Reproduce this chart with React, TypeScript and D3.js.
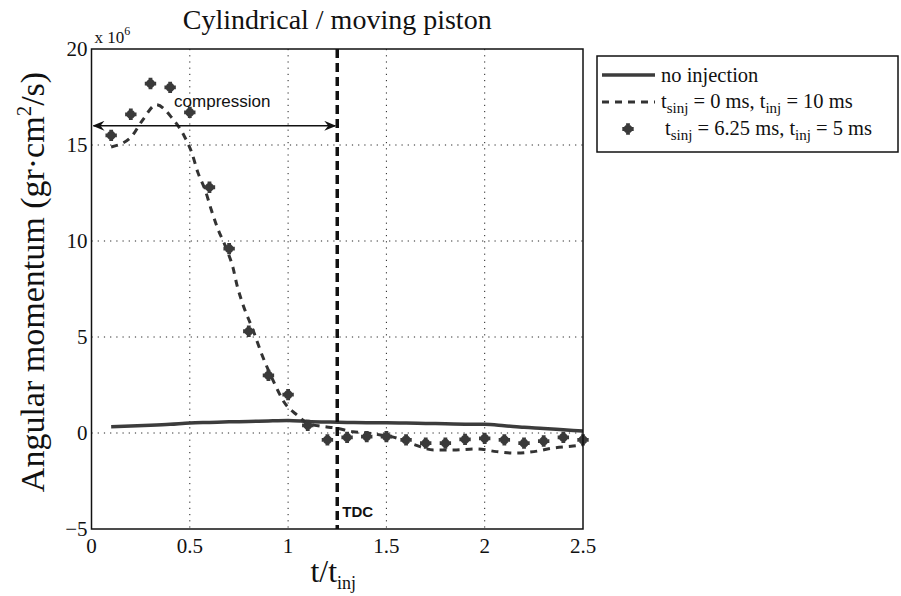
import React from 'react'
import * as d3 from 'd3'

// no injection (solid)
const noInjX = [0.1, 0.2, 0.3, 0.4, 0.5, 0.6, 0.7, 0.8, 0.9, 1.0, 1.1, 1.2, 1.3, 1.4, 1.5, 1.6, 1.7, 1.8, 1.9, 2.0, 2.1, 2.2, 2.3, 2.4, 2.5]
const noInjY = [0.33, 0.36, 0.4, 0.45, 0.52, 0.55, 0.58, 0.6, 0.63, 0.65, 0.6, 0.57, 0.55, 0.54, 0.53, 0.52, 0.5, 0.48, 0.46, 0.45, 0.38, 0.3, 0.24, 0.17, 0.1]

// t_sinj = 0 ms, t_inj = 10 ms (dashed)
const sinj0X = [0.1, 0.2, 0.26, 0.33, 0.41, 0.47, 0.51, 0.54, 0.58, 0.61, 0.64, 0.69, 0.72, 0.74, 0.77, 0.82, 0.87, 0.93, 0.98, 1.05, 1.1, 1.17, 1.24, 1.33, 1.4, 1.47, 1.53, 1.64, 1.74, 1.84, 1.96, 2.06, 2.15, 2.25, 2.35, 2.45, 2.5]
const sinj0Y = [14.9, 15.4, 16.3, 17.1, 16.4, 15.5, 14.6, 13.6, 12.6, 11.6, 10.7, 9.5, 8.6, 7.7, 6.7, 5.4, 4.0, 2.6, 1.6, 0.9, 0.5, 0.35, 0.26, 0.07, 0.0, -0.1, -0.2, -0.6, -0.88, -0.88, -0.83, -0.97, -1.05, -0.97, -0.78, -0.68, -0.62]

// t_sinj = 6.25 ms, t_inj = 5 ms (markers)
const sinj625X = [0.1, 0.2, 0.3, 0.4, 0.5, 0.6, 0.7, 0.8, 0.9, 1.0, 1.1, 1.2, 1.3, 1.4, 1.5, 1.6, 1.7, 1.8, 1.9, 2.0, 2.1, 2.2, 2.3, 2.4, 2.5]
const sinj625Y = [15.5, 16.6, 18.2, 18.0, 16.7, 12.8, 9.6, 5.3, 3.0, 2.0, 0.4, -0.36, -0.23, -0.19, -0.19, -0.36, -0.53, -0.53, -0.33, -0.28, -0.36, -0.53, -0.42, -0.23, -0.36]

const xTicks = [0, 0.5, 1, 1.5, 2, 2.5]
const xTickLabels = ['0', '0.5', '1', '1.5', '2', '2.5']
const yTicks = [-5, 0, 5, 10, 15, 20]
const yTickLabels = ['\u22125', '0', '5', '10', '15', '20']

const tdcX = 1.25
const arrowY = 16

const W = 901
const H = 596
const margin = { top: 49, right: 318, bottom: 67, left: 91.5 }

const serif = "'Liberation Serif', 'Times New Roman', serif"
const sans = "'Liberation Sans', Arial, sans-serif"

function Marker({ x, y }: { x: number; y: number }) {
  const plus = d3.symbol(d3.symbolCross, 72)()
  const diag = d3.symbol(d3.symbolCross, 42)()
  return (
    <g transform={`translate(${x},${y})`} fill="#3a3a3a">
      <path d={plus || ''} />
      <path d={diag || ''} transform="rotate(45)" />
    </g>
  )
}

export default function App() {
  const x = d3.scaleLinear().domain([0, 2.5]).range([margin.left, W - margin.right])
  const y = d3.scaleLinear().domain([-5, 20]).range([H - margin.bottom, margin.top])

  const line = d3.line<[number, number]>()
    .x(d => x(d[0]))
    .y(d => y(d[1]))
    .curve(d3.curveMonotoneX)

  const noInj = line(noInjX.map((v, i) => [v, noInjY[i]] as [number, number])) || ''
  const sinj0 = line(sinj0X.map((v, i) => [v, sinj0Y[i]] as [number, number])) || ''

  const x0 = x(0), x1 = x(2.5), y0 = y(-5), y1 = y(20)
  const legX = 597, legY = 56

  return (
    <svg width={W} height={H} style={{ position: 'absolute', left: 0, top: 0, background: '#fff' }}>
      <defs>
        <marker id="ah" viewBox="0 0 12 10" refX="11" refY="5" markerWidth="12" markerHeight="10" orient="auto-start-reverse" markerUnits="userSpaceOnUse">
          <path d="M0,0 L12,5 L0,10 L4,5 Z" fill="#111" />
        </marker>
        <clipPath id="plot">
          <rect x={x0} y={y1} width={x1 - x0} height={y0 - y1} />
        </clipPath>
      </defs>

      {/* grid */}
      {xTicks.slice(1, -1).map(t => (
        <line key={'gx' + t} x1={x(t)} x2={x(t)} y1={y1} y2={y0} stroke="#222" strokeWidth={1} strokeDasharray="1.2,5" />
      ))}
      {yTicks.slice(1, -1).map(t => (
        <line key={'gy' + t} x1={x0} x2={x1} y1={y(t)} y2={y(t)} stroke="#222" strokeWidth={1} strokeDasharray="1.2,5" />
      ))}

      <g clipPath="url(#plot)">
        <path d={noInj} fill="none" stroke="#3c3c3c" strokeWidth={3.5} />
        <path d={sinj0} fill="none" stroke="#333" strokeWidth={3} strokeDasharray="7,6" />
      </g>
      {sinj625X.map((v, i) => (
        <Marker key={'m' + i} x={x(v)} y={y(sinj625Y[i])} />
      ))}

      {/* TDC line */}
      <line x1={x(tdcX)} x2={x(tdcX)} y1={y1} y2={y0} stroke="#111" strokeWidth={3.5} strokeDasharray="9,5" />
      <text x={x(tdcX) + 5} y={y(-4.35)} fontFamily={sans} fontWeight="bold" fontSize={15} fill="#111">TDC</text>

      {/* compression arrow */}
      <line x1={x0 + 2} x2={x(tdcX) - 2} y1={y(arrowY)} y2={y(arrowY)} stroke="#111" strokeWidth={1.5}
        markerStart="url(#ah)" markerEnd="url(#ah)" />
      <text x={x(0.42)} y={y(17)} fontFamily={sans} fontSize={17} fill="#111">compression</text>

      {/* axes box */}
      <rect x={x0} y={y1} width={x1 - x0} height={y0 - y1} fill="none" stroke="#111" strokeWidth={1.5} />
      {xTicks.map((t, i) => (
        <text key={'xt' + t} x={x(t)} y={y0 + 24} textAnchor="middle" fontFamily={serif} fontSize={21} fill="#111">{xTickLabels[i]}</text>
      ))}
      {yTicks.map((t, i) => (
        <text key={'yt' + t} x={x0 - 4} y={y(t) + 7} textAnchor="end" fontFamily={serif} fontSize={21} fill="#111">{yTickLabels[i]}</text>
      ))}
      <text x={x0 + 3} y={y1 - 6} fontFamily={serif} fontSize={17} fill="#111">
        x 10<tspan dy={-8} fontSize={12}>6</tspan>
      </text>

      {/* title and axis labels */}
      <text x={(x0 + x1) / 2} y={29} textAnchor="middle" fontFamily={serif} fontSize={28} fill="#111">Cylindrical / moving piston</text>
      <text x={(x0 + x1) / 2 - 4} y={582} textAnchor="middle" fontFamily={serif} fontSize={32} fill="#111">
        t/t<tspan dy={7} fontSize={18}>inj</tspan>
      </text>
      <text transform={`translate(44,282) rotate(-90)`} textAnchor="middle" fontFamily={serif} fontSize={34} fill="#111">
        Angular momentum (gr{'\u00b7'}cm<tspan dy={-13} fontSize={21}>2</tspan><tspan dy={13}>/s)</tspan>
      </text>

      {/* legend */}
      <rect x={legX} y={legY} width={301} height={96} fill="#fff" stroke="#111" strokeWidth={1.5} />
      <line x1={legX + 5} x2={legX + 58} y1={legY + 19} y2={legY + 19} stroke="#3c3c3c" strokeWidth={3.5} />
      <text x={legX + 64} y={legY + 26} fontFamily={serif} fontSize={20.5} fill="#111">no injection</text>
      <line x1={legX + 5} x2={legX + 58} y1={legY + 46} y2={legY + 46} stroke="#333" strokeWidth={3} strokeDasharray="7,6" />
      <text x={legX + 64} y={legY + 52} fontFamily={serif} fontSize={20.5} fill="#111">
        t<tspan dy={5} fontSize={15}>sinj</tspan><tspan dy={-5}> = 0 ms, t</tspan><tspan dy={5} fontSize={15}>inj</tspan><tspan dy={-5}> = 10 ms</tspan>
      </text>
      <Marker x={legX + 31} y={legY + 73} />
      <text x={legX + 68} y={legY + 79} fontFamily={serif} fontSize={20.5} fill="#111">
        t<tspan dy={5} fontSize={15}>sinj</tspan><tspan dy={-5}> = 6.25 ms, t</tspan><tspan dy={5} fontSize={15}>inj</tspan><tspan dy={-5}> = 5 ms</tspan>
      </text>
    </svg>
  )
}
